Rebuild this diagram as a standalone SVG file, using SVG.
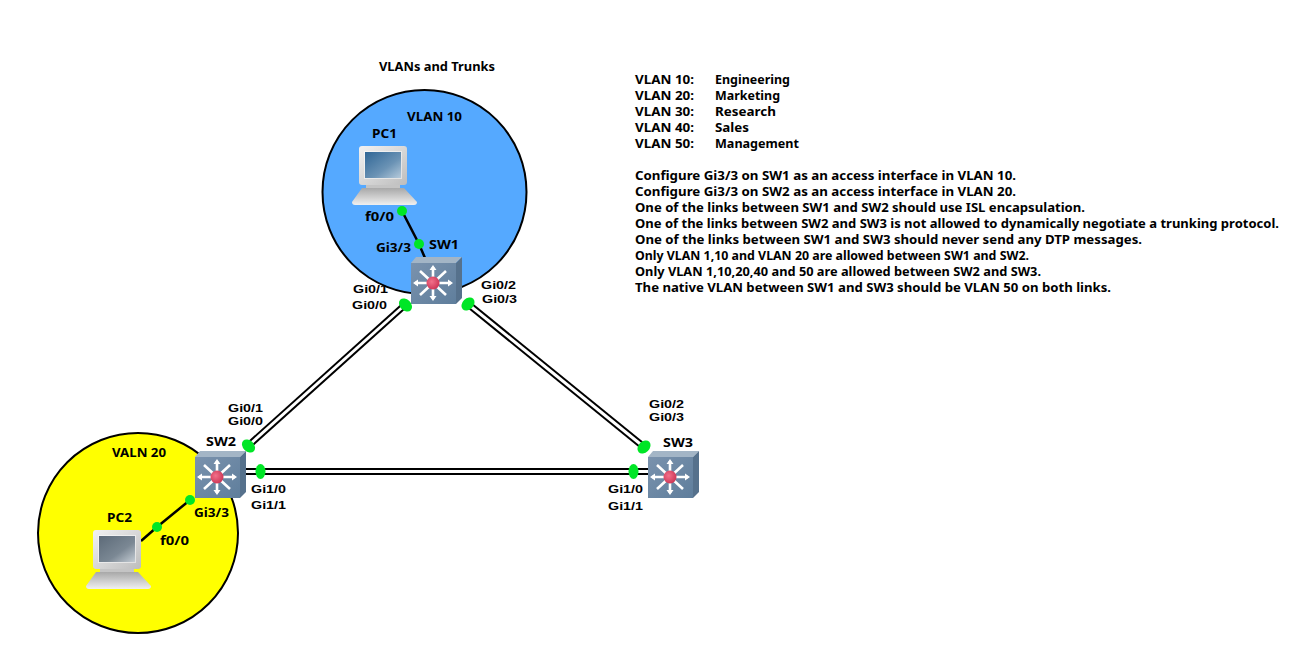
<svg xmlns="http://www.w3.org/2000/svg" width="1306" height="650" viewBox="0 0 1306 650">
<style>
text{font-family:"Noto Sans","Liberation Sans",sans-serif;font-weight:bold;font-size:12px;fill:#000}
#labels text.p{font-family:"Liberation Sans","Noto Sans",sans-serif;font-size:11px}
.zone{stroke:#000;stroke-width:2}
.ol{stroke:#000;stroke-width:7;fill:none}
.il{stroke:#fff;stroke-width:3;fill:none}
.s{stroke:#000;stroke-width:2.5;fill:none}
.d{fill:#00e626}
</style>
<defs>
<linearGradient id="mon" x1="0" y1="0" x2="1" y2="1"><stop offset="0" stop-color="#f2f2f2"/><stop offset="1" stop-color="#bdbdbd"/></linearGradient>
<linearGradient id="scr" x1="0" y1="0" x2="1" y2="1"><stop offset="0" stop-color="#2f6696"/><stop offset="0.6" stop-color="#6b93b5"/><stop offset="1" stop-color="#b5cadb"/></linearGradient>
<linearGradient id="scr2" x1="0" y1="0" x2="1" y2="1"><stop offset="0" stop-color="#5c6a78"/><stop offset="0.6" stop-color="#7b8894"/><stop offset="1" stop-color="#c4ccd3"/></linearGradient>
<linearGradient id="base" x1="0" y1="0" x2="0" y2="1"><stop offset="0" stop-color="#a8a8a8"/><stop offset="1" stop-color="#f0f0f0"/></linearGradient>
<radialGradient id="hub" cx="0.4" cy="0.4" r="0.7"><stop offset="0" stop-color="#f2708a"/><stop offset="1" stop-color="#c92f50"/></radialGradient>
<linearGradient id="front" x1="0" y1="0" x2="1" y2="1"><stop offset="0" stop-color="#7a92ad"/><stop offset="1" stop-color="#5f7e9c"/></linearGradient>
<g id="sw">
<path d="M-22,-20 L-17,-26 L29,-26 L23,-20 Z" fill="#a3b5c6"/>
<path d="M23,-20 L29,-26 L29,15 L23,21 Z" fill="#56718c"/>
<rect x="-22" y="-20" width="45" height="41" fill="url(#front)"/>
<path d="M0,0 L-18,0 M0,0 L18,0 M0,0 L0,-16 M0,0 L0,16 M0,0 L-13,-12 M0,0 L13,-12 M0,0 L-13,12 M0,0 L13,12" fill="none" stroke="#fff" stroke-width="2.600"/>
<path d="M-20,0 L-15,-3.500 L-15,3.500 Z M20,0 L15,-3.500 L15,3.500 Z M0,-18 L-3.500,-13 L3.500,-13 Z M0,18 L-3.500,13 L3.500,13 Z" fill="#fff"/>
<circle r="6.500" fill="url(#hub)"/>
</g>
<g id="pcbody">
<rect x="0" y="0" width="48" height="39" rx="3" fill="url(#mon)"/>
<path d="M7,39 L41,39 L41,42 L7,42 Z" fill="#c4c4c4"/>
<path d="M3,42 L45,42 L58,56 Q58,59 55,59 L-4,59 Q-7,59 -7,56 Z" fill="url(#base)"/>
</g>
</defs>
<g id="zones">
<circle id="vlan10-zone" class="zone" cx="424.500" cy="192" r="102" fill="#55a9ff"/>
<circle id="vlan20-zone" class="zone" cx="138" cy="533" r="100" fill="#ffff00"/>
</g>
<g id="connectors">
<path class="s" d="M402,211 L419,244 L425,258"/>
<path class="s" d="M190,500 L157,527 L141,541"/>
<path class="ol" d="M406,304 L248,446"/><path class="il" d="M406,304 L248,446"/>
<path class="ol" d="M468,304 L644,447"/><path class="il" d="M468,304 L644,447"/>
<path class="ol" d="M245,471.500 L650,471.500"/><path class="il" d="M245,471.500 L650,471.500"/>
</g>
<g id="PC1" transform="translate(359,146)">
<use href="#pcbody"/>
<rect x="5" y="5" width="38" height="28" fill="#fff" opacity=".5"/>
<rect x="6" y="6" width="36" height="26" fill="url(#scr)"/>
<text x="13" y="-8" textLength="25" lengthAdjust="spacingAndGlyphs">PC1</text>
</g>
<g id="PC2" transform="translate(93,530)">
<use href="#pcbody"/>
<rect x="5" y="5" width="38" height="28" fill="#fff" opacity=".5"/>
<rect x="6" y="6" width="36" height="26" fill="url(#scr2)"/>
<text x="14" y="-8" textLength="25" lengthAdjust="spacingAndGlyphs">PC2</text>
</g>
<g id="SW1"><use href="#sw" x="433" y="283"/><text x="429" y="249" textLength="30" lengthAdjust="spacingAndGlyphs">SW1</text></g>
<g id="SW2"><use href="#sw" x="217" y="477"/><text x="206" y="446" textLength="30" lengthAdjust="spacingAndGlyphs">SW2</text></g>
<g id="SW3"><use href="#sw" x="670" y="477"/><text x="663" y="447" textLength="30" lengthAdjust="spacingAndGlyphs">SW3</text></g>
<g id="dots">
<g class="d">
<circle cx="402" cy="211" r="5"/><circle cx="419" cy="244" r="5"/>
<circle cx="190" cy="500" r="5"/><circle cx="157" cy="527" r="5"/>
<ellipse cx="405.500" cy="305" rx="7.500" ry="5.500" transform="rotate(45 405.500 305)"/>
<ellipse cx="468" cy="304" rx="7.500" ry="5.500" transform="rotate(-45 468 304)"/>
<ellipse cx="248.500" cy="446" rx="7.500" ry="5.500" transform="rotate(45 248.500 446)"/>
<ellipse cx="644" cy="447" rx="7.500" ry="5.500" transform="rotate(-45 644 447)"/>
<ellipse cx="260.500" cy="471.500" rx="5" ry="7.500"/>
<ellipse cx="633.500" cy="471.500" rx="5" ry="7.500"/>
</g>
</g>
<g id="labels">
<text x="379" y="71" textLength="116" lengthAdjust="spacingAndGlyphs">VLANs and Trunks</text>
<text x="407" y="121" textLength="55" lengthAdjust="spacingAndGlyphs">VLAN 10</text>
<text x="112" y="457" textLength="54" lengthAdjust="spacingAndGlyphs">VALN 20</text>
<text x="365" y="221" textLength="29" lengthAdjust="spacingAndGlyphs">f0/0</text>
<text x="376" y="252" textLength="35" lengthAdjust="spacingAndGlyphs">Gi3/3</text>
<text class="p" x="353" y="293" textLength="35" lengthAdjust="spacingAndGlyphs">Gi0/1</text>
<text class="p" x="352" y="309" textLength="35" lengthAdjust="spacingAndGlyphs">Gi0/0</text>
<text class="p" x="481" y="289" textLength="35" lengthAdjust="spacingAndGlyphs">Gi0/2</text>
<text class="p" x="482" y="303" textLength="35" lengthAdjust="spacingAndGlyphs">Gi0/3</text>
<text class="p" x="228" y="412" textLength="35" lengthAdjust="spacingAndGlyphs">Gi0/1</text>
<text class="p" x="228" y="425" textLength="35" lengthAdjust="spacingAndGlyphs">Gi0/0</text>
<text class="p" x="251" y="493" textLength="35" lengthAdjust="spacingAndGlyphs">Gi1/0</text>
<text class="p" x="251" y="509" textLength="35" lengthAdjust="spacingAndGlyphs">Gi1/1</text>
<text x="194" y="517" textLength="35" lengthAdjust="spacingAndGlyphs">Gi3/3</text>
<text x="160" y="545" textLength="29" lengthAdjust="spacingAndGlyphs">f0/0</text>
<text class="p" x="649" y="408" textLength="35" lengthAdjust="spacingAndGlyphs">Gi0/2</text>
<text class="p" x="649" y="421" textLength="35" lengthAdjust="spacingAndGlyphs">Gi0/3</text>
<text class="p" x="608" y="493" textLength="35" lengthAdjust="spacingAndGlyphs">Gi1/0</text>
<text class="p" x="608" y="510" textLength="35" lengthAdjust="spacingAndGlyphs">Gi1/1</text>
</g>
<g id="notes">
<text x="635" y="84" textLength="59" lengthAdjust="spacingAndGlyphs">VLAN 10:</text><text x="715" y="84" textLength="75" lengthAdjust="spacingAndGlyphs">Engineering</text>
<text x="635" y="100" textLength="59" lengthAdjust="spacingAndGlyphs">VLAN 20:</text><text x="715" y="100" textLength="65" lengthAdjust="spacingAndGlyphs">Marketing</text>
<text x="635" y="116" textLength="59" lengthAdjust="spacingAndGlyphs">VLAN 30:</text><text x="715" y="116" textLength="61" lengthAdjust="spacingAndGlyphs">Research</text>
<text x="635" y="132" textLength="59" lengthAdjust="spacingAndGlyphs">VLAN 40:</text><text x="715" y="132" textLength="34" lengthAdjust="spacingAndGlyphs">Sales</text>
<text x="635" y="148" textLength="59" lengthAdjust="spacingAndGlyphs">VLAN 50:</text><text x="715" y="148" textLength="84" lengthAdjust="spacingAndGlyphs">Management</text>
<text x="635" y="180" textLength="381" lengthAdjust="spacingAndGlyphs">Configure Gi3/3 on SW1 as an access interface in VLAN 10.</text>
<text x="635" y="196" textLength="381" lengthAdjust="spacingAndGlyphs">Configure Gi3/3 on SW2 as an access interface in VLAN 20.</text>
<text x="635" y="212" textLength="450" lengthAdjust="spacingAndGlyphs">One of the links between SW1 and SW2 should use ISL encapsulation.</text>
<text x="635" y="228" textLength="644" lengthAdjust="spacingAndGlyphs">One of the links between SW2 and SW3 is not allowed to dynamically negotiate a trunking protocol.</text>
<text x="635" y="244" textLength="507" lengthAdjust="spacingAndGlyphs">One of the links between SW1 and SW3 should never send any DTP messages.</text>
<text x="635" y="260" textLength="394" lengthAdjust="spacingAndGlyphs">Only VLAN 1,10 and VLAN 20 are allowed between SW1 and SW2.</text>
<text x="635" y="276" textLength="406" lengthAdjust="spacingAndGlyphs">Only VLAN 1,10,20,40 and 50 are allowed between SW2 and SW3.</text>
<text x="635" y="292" textLength="476" lengthAdjust="spacingAndGlyphs">The native VLAN between SW1 and SW3 should be VLAN 50 on both links.</text>
</g>
</svg>
